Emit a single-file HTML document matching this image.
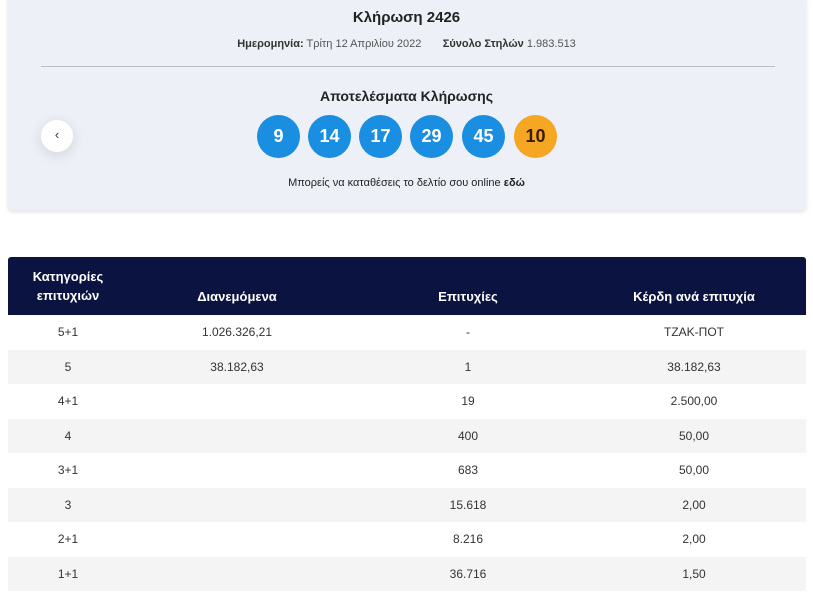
<!DOCTYPE html>
<html><head><meta charset="utf-8"><style>
body{margin:0;width:813px;height:606px;background:#fff;font-family:"Liberation Sans","DejaVu Sans",sans-serif;position:relative;overflow:hidden;color:#222}
.card{position:absolute;left:8px;top:-5px;width:798px;height:215px;background:#edf0f7;box-shadow:0 2px 5px rgba(0,0,0,.12);border-radius:4px}
.t{position:absolute;left:0;width:813px;text-align:center}
.ball{position:absolute;top:115px;width:43px;height:43px;border-radius:50%;background:#1a8ee0;color:#fff;font-weight:bold;font-size:18px;line-height:43px;text-align:center}
.arrow{position:absolute;left:41px;top:120px;width:32px;height:32px;border-radius:50%;background:#fff;box-shadow:0 3px 14px rgba(0,0,0,.12);text-align:center;line-height:30px;font-size:13px;color:#333}
.tbl{position:absolute;left:8px;top:257px;width:798px}
.hd{height:58px;background:#0b1341;color:#fff;font-weight:bold;font-size:13px;position:relative;border-radius:3px 3px 0 0}
.row{height:34.5px;position:relative;font-size:12px;color:#333}
.c{position:absolute;top:0;line-height:34px;text-align:center;width:200px;margin-left:-100px}
</style></head><body>
<div class="card"></div>
<div class="t" style="top:9px;font-size:15px;font-weight:bold">Κλήρωση 2426</div>
<div class="t" style="top:38px;font-size:11px;color:#555"><b style="color:#333">Ημερομηνία:</b> Τρίτη 12 Απριλίου 2022 &nbsp;&nbsp;&nbsp;&nbsp;&nbsp;&nbsp;<b style="color:#333">Σύνολο Στηλών</b> 1.983.513</div>
<div style="position:absolute;left:41px;top:66px;width:734px;height:1px;background:#b8bccb"></div>
<div class="t" style="top:88px;font-size:14px;font-weight:bold">Αποτελέσματα Κλήρωσης</div>
<div class="arrow">‹</div>
<div class="ball" style="left:257px">9</div>
<div class="ball" style="left:308px">14</div>
<div class="ball" style="left:359px">17</div>
<div class="ball" style="left:410px">29</div>
<div class="ball" style="left:462px">45</div>
<div class="ball" style="left:514px;background:#f5a623;color:#3a1a00">10</div>
<div class="t" style="top:177px;font-size:11px">Μπορείς να καταθέσεις το δελτίο σου online <b>εδώ</b></div>
<div class="tbl">
<div class="hd">
<div class="c" style="left:60px;top:10px;line-height:19px">Κατηγορίες<br>επιτυχιών</div>
<div class="c" style="left:229px;line-height:80px">Διανεμόμενα</div>
<div class="c" style="left:460px;line-height:80px">Επιτυχίες</div>
<div class="c" style="left:686px;line-height:80px">Κέρδη ανά επιτυχία</div>
</div>
<div>
<div class="row" style="background:#fff"><div class="c" style="left:60px">5+1</div><div class="c" style="left:229px">1.026.326,21</div><div class="c" style="left:460px">-</div><div class="c" style="left:686px">ΤΖΑΚ-ΠΟΤ</div></div>
<div class="row" style="background:#f4f4f4"><div class="c" style="left:60px">5</div><div class="c" style="left:229px">38.182,63</div><div class="c" style="left:460px">1</div><div class="c" style="left:686px">38.182,63</div></div>
<div class="row" style="background:#fff"><div class="c" style="left:60px">4+1</div><div class="c" style="left:460px">19</div><div class="c" style="left:686px">2.500,00</div></div>
<div class="row" style="background:#f4f4f4"><div class="c" style="left:60px">4</div><div class="c" style="left:460px">400</div><div class="c" style="left:686px">50,00</div></div>
<div class="row" style="background:#fff"><div class="c" style="left:60px">3+1</div><div class="c" style="left:460px">683</div><div class="c" style="left:686px">50,00</div></div>
<div class="row" style="background:#f4f4f4"><div class="c" style="left:60px">3</div><div class="c" style="left:460px">15.618</div><div class="c" style="left:686px">2,00</div></div>
<div class="row" style="background:#fff"><div class="c" style="left:60px">2+1</div><div class="c" style="left:460px">8.216</div><div class="c" style="left:686px">2,00</div></div>
<div class="row" style="background:#f4f4f4"><div class="c" style="left:60px">1+1</div><div class="c" style="left:460px">36.716</div><div class="c" style="left:686px">1,50</div></div>
</div>
</div>
</body></html>
